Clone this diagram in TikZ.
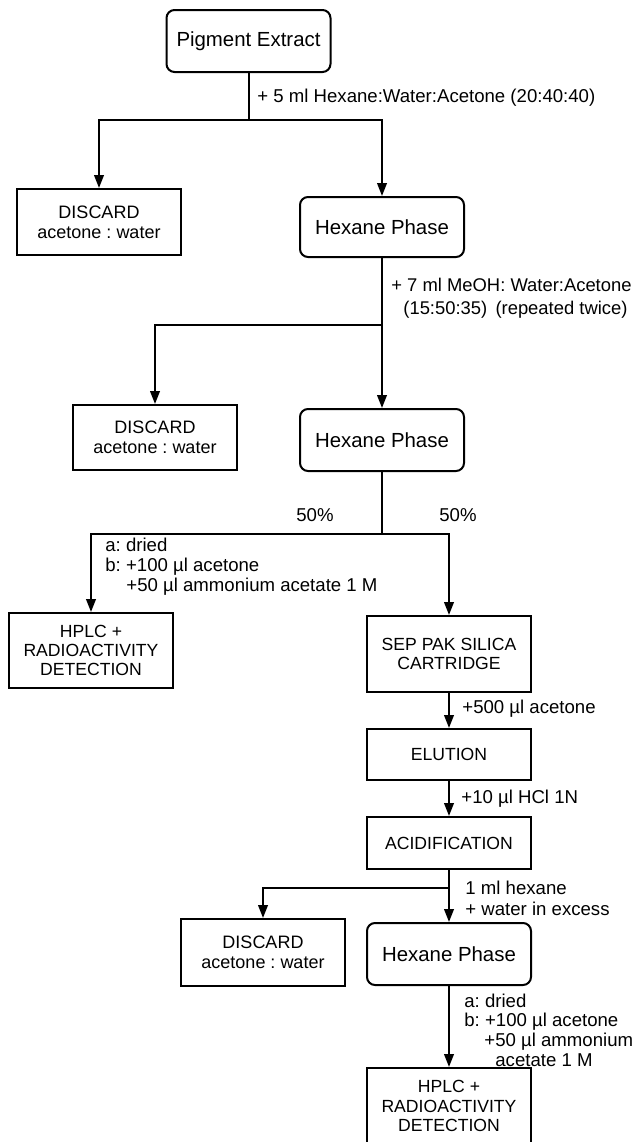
\documentclass[tikz,border=0pt]{standalone}
\usepackage{fontspec}
\setmainfont{Liberation Sans}
\usetikzlibrary{arrows.meta}
\frenchspacing
\begin{document}
\begin{tikzpicture}[x=0.5pt,y=-0.5pt,
  box/.style={draw, line width=1pt, minimum width=82pt, inner sep=2pt, align=center, font=\fontsize{8.8}{9.7}\selectfont},
  rbox/.style={box, rounded corners=4pt, font=\fontsize{10.2}{12}\selectfont},
  dbox/.style={box, font=\fontsize{9}{10}\selectfont},
  lbl/.style={anchor=west, inner sep=0pt, align=left, font=\fontsize{9.3}{10}\selectfont},
  arr/.style={-{Triangle[length=6.5pt,width=4.8pt]}, line width=1pt},
  ln/.style={line width=1pt}]
\clip (0,0) rectangle (634,1142);
% boxes
\node[rbox, minimum height=31pt] (pig) at (248.5,41) {Pigment Extract};
\node[dbox, minimum height=33pt] (dis1) at (99,222) {DISCARD\\acetone : water};
\node[rbox, minimum height=30pt] (hex1) at (382,227) {Hexane Phase};
\node[dbox, minimum height=32.5pt] (dis2) at (155,437.5) {DISCARD\\acetone : water};
\node[rbox, minimum height=31pt] (hex2) at (382,440) {Hexane Phase};
\node[box, minimum height=37.5pt] (hplc1) at (91,650.5) {HPLC +\\RADIOACTIVITY\\DETECTION};
\node[box, minimum height=38pt] (sep) at (449,654) {SEP PAK SILICA\\CARTRIDGE};
\node[box, minimum height=25.5pt] (elu) at (449,754.5) {ELUTION};
\node[box, minimum height=26pt] (acid) at (449,843) {ACIDIFICATION};
\node[dbox, minimum height=33.5pt] (dis3) at (263,952.5) {DISCARD\\acetone : water};
\node[rbox, minimum height=31pt] (hex3) at (449,954) {Hexane Phase};
\node[box, minimum height=38pt] (hplc2) at (449,1106) {HPLC +\\RADIOACTIVITY\\DETECTION};
% junctions
\coordinate (j1) at (248.5,120);
\coordinate (j2) at (382,325);
\coordinate (j3) at (382,534);
\coordinate (j4) at (449,888);
% connectors
\draw[ln] (pig.south) -- (j1);
\draw[arr] (j1) -| (dis1.north);
\draw[arr] (j1) -| (hex1.north);
\draw[ln] (hex1.south) -- (j2);
\draw[arr] (j2) -| (dis2.north);
\draw[arr] (j2) -- (hex2.north);
\draw[ln] (hex2.south) -- (j3);
\draw[arr] (j3) -| (hplc1.north);
\draw[arr] (j3) -| (sep.north);
\draw[arr] (sep) -- (elu);
\draw[arr] (elu) -- (acid);
\draw[ln] (acid.south) -- (j4);
\draw[arr] (j4) -| (dis3.north);
\draw[arr] (j4) -- (hex3.north);
\draw[arr] (hex3) -- (hplc2);
% labels
\node[lbl] (l1) at (257,98) {+ 5 ml Hexane:Water:Acetone (20:40:40)};
\node[lbl, font=\fontsize{9.2}{11.5}\selectfont] (l2) at (391,298.5) {+ 7 ml MeOH: Water:Acetone\\\hspace*{6pt}(15:50:35)\hspace{0.45em}(repeated twice)};
\node[lbl] (p1) at (296,515) {50\%};
\node[lbl] (p2) at (439,515) {50\%};
\node[lbl] (l3) at (105,567) {a: dried\\b: +100 µl acetone\\\hspace*{10.5pt}+50 µl ammonium acetate 1 M};
\node[lbl] (l4) at (462,709) {+500 µl acetone};
\node[lbl] (l5) at (461,799) {+10 µl HCl 1N};
\node[lbl, font=\fontsize{9.3}{10.5}\selectfont] (l6) at (465,898.5) {1 ml hexane\\+ water in excess};
\node[lbl, font=\fontsize{9.3}{9.8}\selectfont] (l7) at (464,1030) {a: dried\\b: +100 µl acetone\\\hspace*{10pt}+50 µl ammonium\\\hspace*{15.5pt}acetate 1 M};
\end{tikzpicture}
\end{document}
